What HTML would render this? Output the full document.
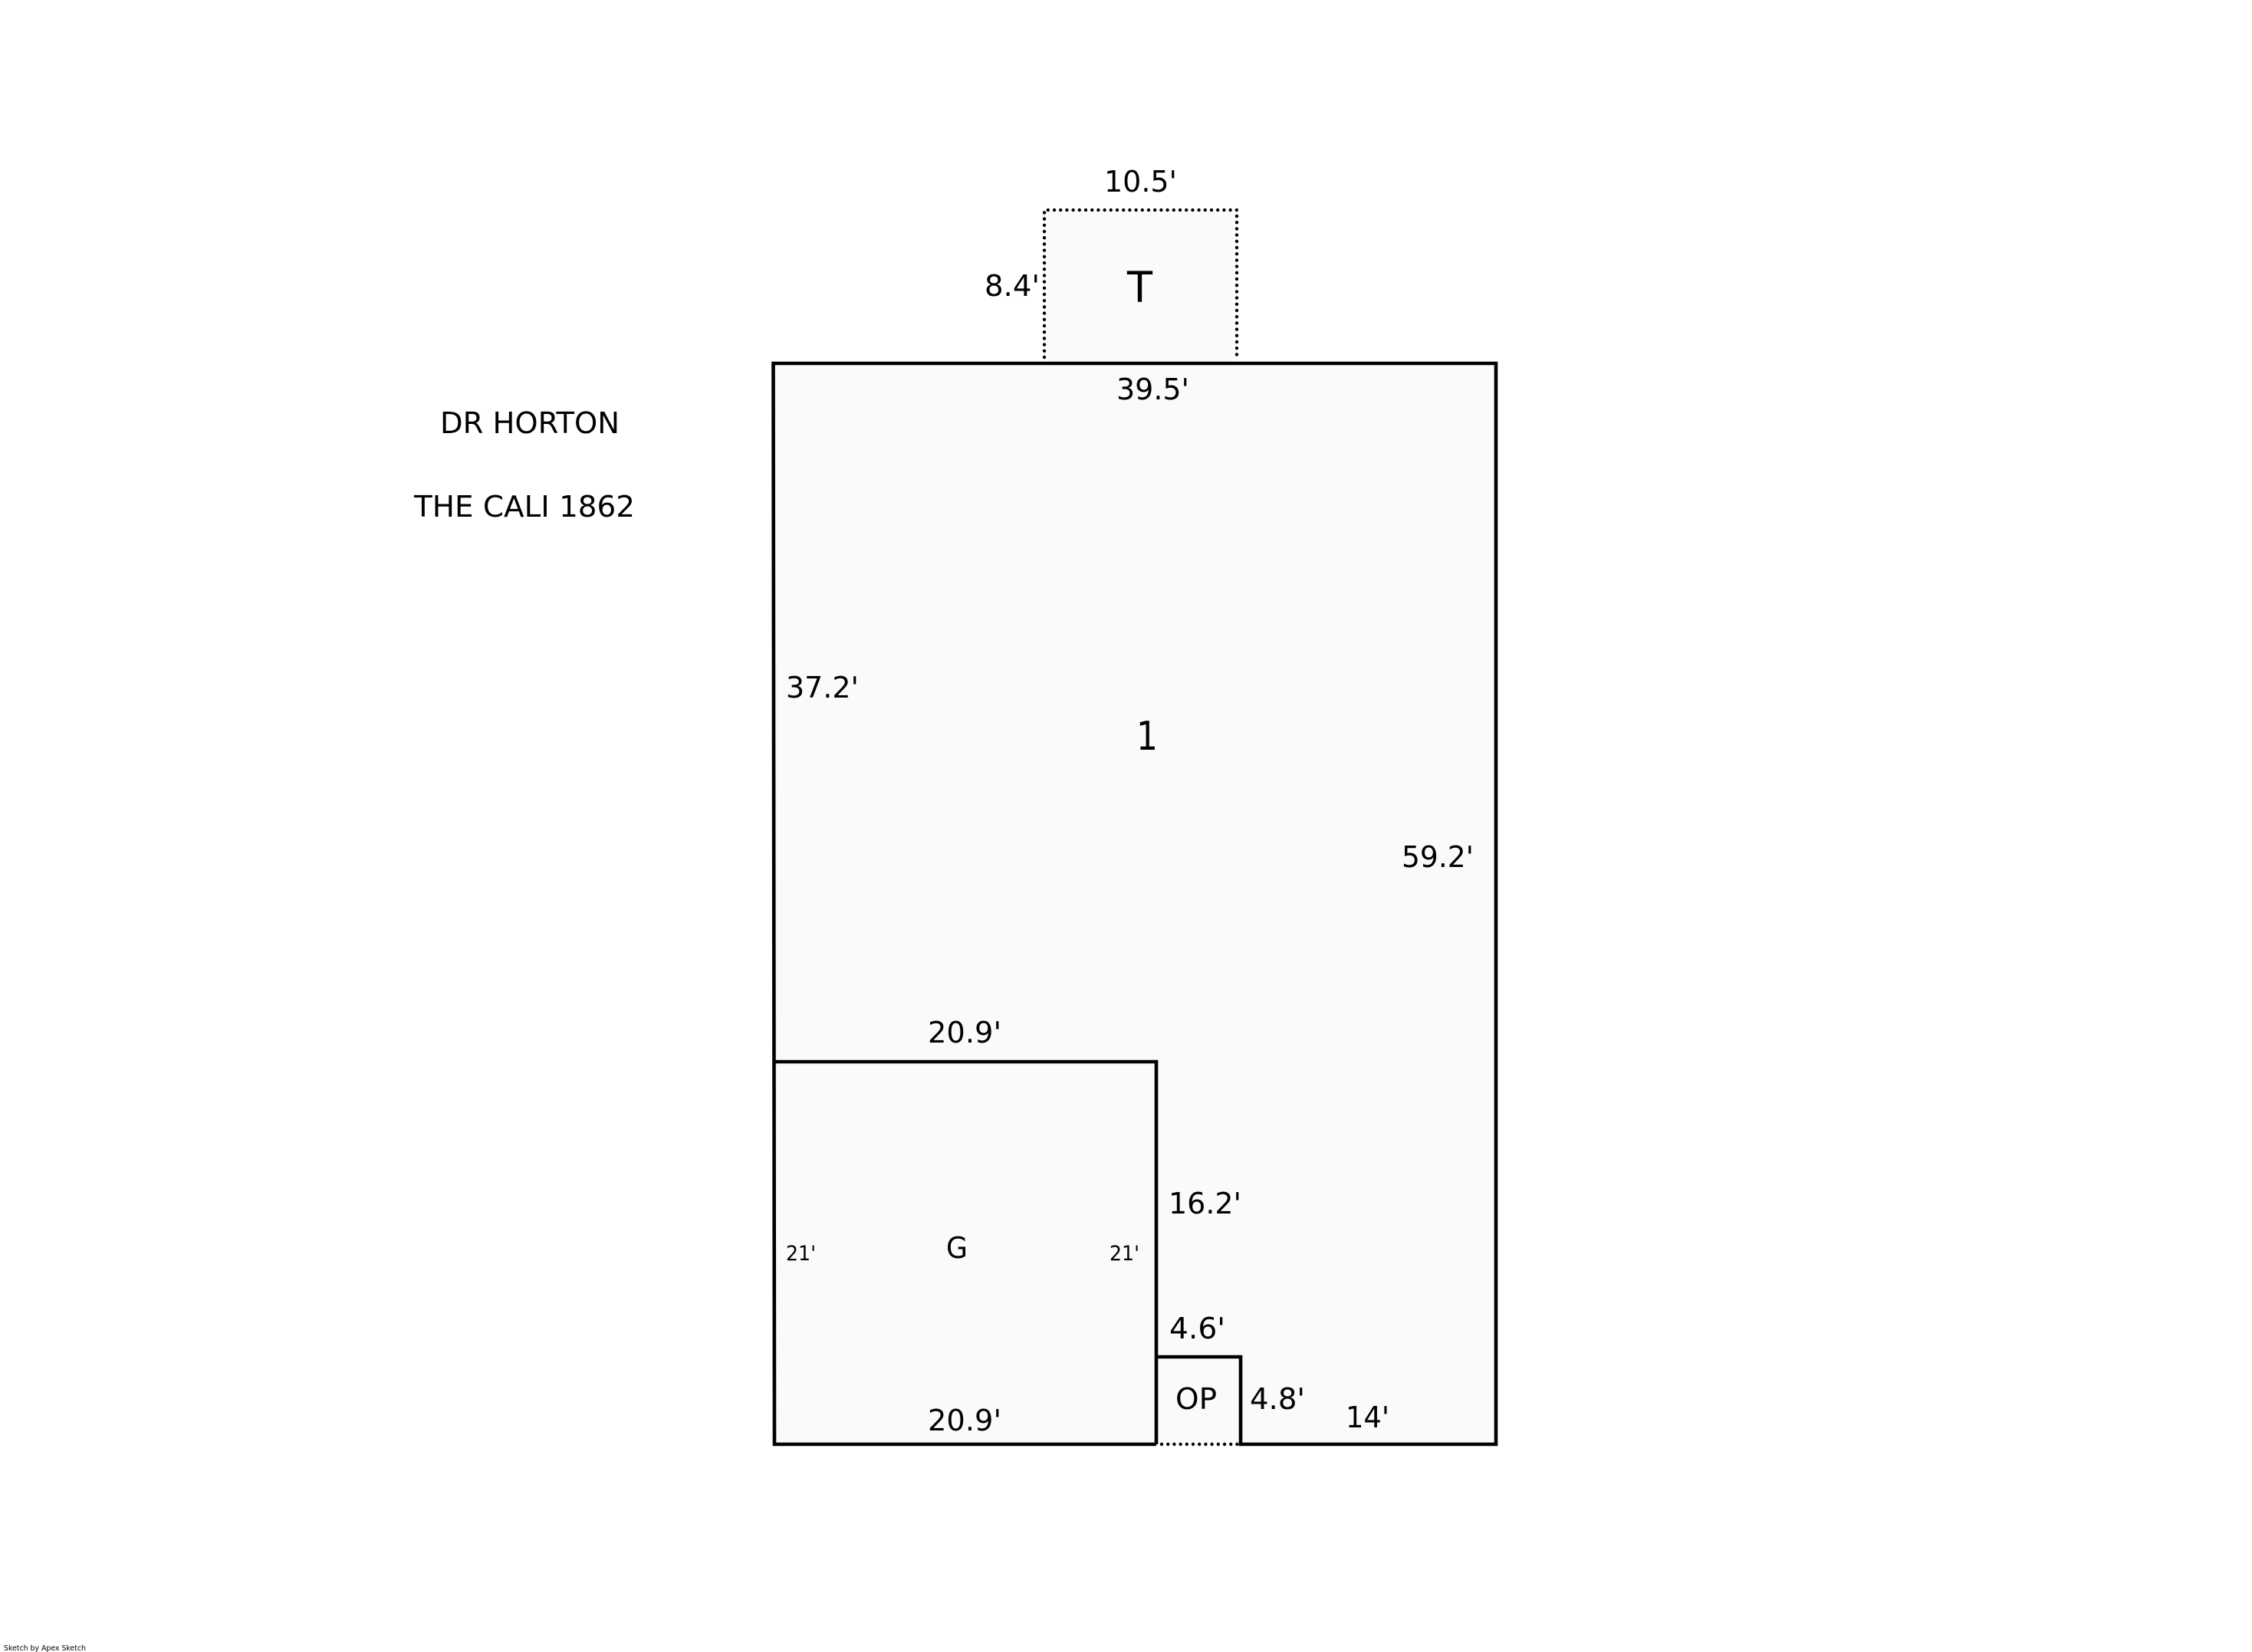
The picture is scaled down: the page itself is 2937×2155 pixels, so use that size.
<!DOCTYPE html>
<html><head><meta charset="utf-8"><title>Floor sketch</title>
<style>html,body{margin:0;padding:0;background:#fff}svg{display:block}text{font-family:"DejaVu Sans","Liberation Sans",sans-serif;fill:#000}</style>
</head><body>
<svg width="2937" height="2155" viewBox="0 0 2937 2155" xmlns="http://www.w3.org/2000/svg">
<rect width="2937" height="2155" fill="#fff"/>
<rect x="1362" y="274" width="251" height="200" fill="#fafafa"/>
<path d="M1362 466V274H1613V466" fill="none" stroke="#000" stroke-width="4.4" stroke-linecap="round" stroke-dasharray="0 8.2"/>
<path d="M1008.5 474H1951V1884H1010Z" fill="#fafafa"/>
<path d="M1515 1884H1616" fill="none" stroke="#000" stroke-width="4.4" stroke-linecap="round" stroke-dasharray="0 8.2"/>
<path d="M1508 1884H1010L1008.5 474H1951V1884H1618V1770H1508V1385H1010M1508 1884V1770" fill="none" stroke="#000" stroke-width="4.6" stroke-linejoin="miter"/>
<g font-size="38">
<text x="1440" y="250" textLength="95" lengthAdjust="spacingAndGlyphs">10.5'</text>
<text x="1284" y="386" textLength="72" lengthAdjust="spacingAndGlyphs">8.4'</text>
<text x="1456" y="521" textLength="95" lengthAdjust="spacingAndGlyphs">39.5'</text>
<text x="1025" y="910" textLength="95" lengthAdjust="spacingAndGlyphs">37.2'</text>
<text x="1828" y="1131" textLength="94" lengthAdjust="spacingAndGlyphs">59.2'</text>
<text x="1210" y="1360" textLength="96" lengthAdjust="spacingAndGlyphs">20.9'</text>
<text x="1524" y="1583" textLength="95" lengthAdjust="spacingAndGlyphs">16.2'</text>
<text x="1525" y="1746" textLength="73" lengthAdjust="spacingAndGlyphs">4.6'</text>
<text x="1533" y="1838" textLength="54" lengthAdjust="spacingAndGlyphs">OP</text>
<text x="1630" y="1838" textLength="72" lengthAdjust="spacingAndGlyphs">4.8'</text>
<text x="1755" y="1862" textLength="57" lengthAdjust="spacingAndGlyphs">14'</text>
<text x="1210" y="1866" textLength="96" lengthAdjust="spacingAndGlyphs">20.9'</text>
<text x="1234" y="1641" textLength="28" lengthAdjust="spacingAndGlyphs">G</text>
<text x="574" y="565" textLength="234" lengthAdjust="spacingAndGlyphs">DR HORTON</text>
<text x="540" y="674" textLength="288" lengthAdjust="spacingAndGlyphs">THE CALI 1862</text>
</g>
<text x="1470" y="394" font-size="55" textLength="33" lengthAdjust="spacingAndGlyphs">T</text>
<text x="1482" y="978" font-size="52" textLength="28" lengthAdjust="spacingAndGlyphs">1</text>
<g font-size="27">
<text x="1025" y="1644" textLength="39" lengthAdjust="spacingAndGlyphs">21'</text>
<text x="1447" y="1644" textLength="39" lengthAdjust="spacingAndGlyphs">21'</text>
</g>
<text x="5" y="2153" font-size="10" textLength="107" lengthAdjust="spacingAndGlyphs">Sketch by Apex Sketch</text>
</svg>
</body></html>
